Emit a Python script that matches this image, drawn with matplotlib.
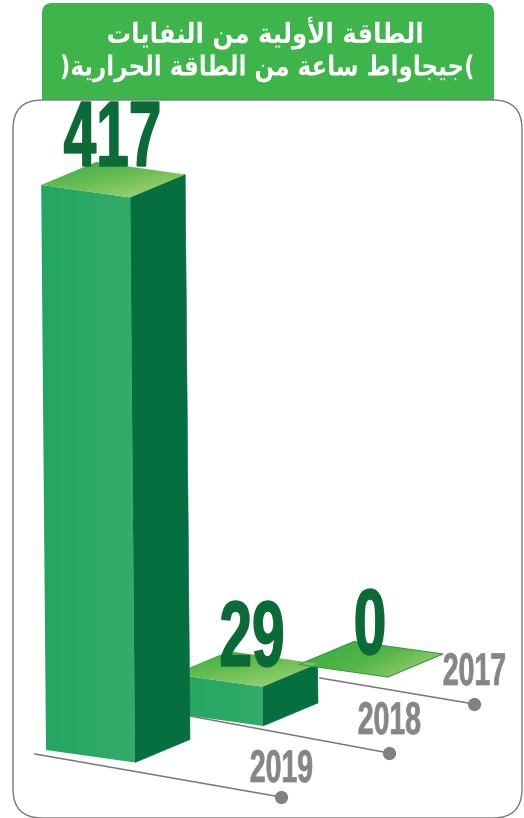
import numpy as np
import matplotlib
matplotlib.use('Agg')
import matplotlib.pyplot as plt
from matplotlib.patches import Polygon, FancyBboxPatch
from matplotlib.patheffects import AbstractPathEffect
from matplotlib.transforms import Affine2D
from matplotlib.colors import LinearSegmentedColormap

years = ['2019', '2018', '2017']
values = [417, 29, 0]
title_lines = ['الطاقة الأولية من النفايات', '(جيجاواط ساعة من الطاقة الحرارية)']

# isolated, final, initial, medial
FORMS = {
    'ا': (0xFE8D, 0xFE8E), 'أ': (0xFE83, 0xFE84), 'ر': (0xFEAD, 0xFEAE), 'و': (0xFEED, 0xFEEE),
    'ة': (0xFE93, 0xFE94),
    'ت': (0xFE95, 0xFE96, 0xFE97, 0xFE98), 'ج': (0xFE9D, 0xFE9E, 0xFE9F, 0xFEA0),
    'ح': (0xFEA1, 0xFEA2, 0xFEA3, 0xFEA4), 'س': (0xFEB1, 0xFEB2, 0xFEB3, 0xFEB4),
    'ط': (0xFEC1, 0xFEC2, 0xFEC3, 0xFEC4), 'ع': (0xFEC9, 0xFECA, 0xFECB, 0xFECC),
    'ف': (0xFED1, 0xFED2, 0xFED3, 0xFED4), 'ق': (0xFED5, 0xFED6, 0xFED7, 0xFED8),
    'ل': (0xFEDD, 0xFEDE, 0xFEDF, 0xFEE0), 'م': (0xFEE1, 0xFEE2, 0xFEE3, 0xFEE4),
    'ن': (0xFEE5, 0xFEE6, 0xFEE7, 0xFEE8), 'ي': (0xFEF1, 0xFEF2, 0xFEF3, 0xFEF4),
}
LAM_ALEF = {'ا': (0xFEFB, 0xFEFC), 'أ': (0xFEF7, 0xFEF8)}


def shape_arabic(line):
    # matplotlib has no shaping, so pick the joined forms and lay them out right to left
    out = []
    i = 0
    while i < len(line):
        c = line[i]
        if c not in FORMS:
            out.append(c)
            i += 1
            continue
        prev = line[i-1] if i > 0 else ''
        joins_prev = prev in FORMS and len(FORMS[prev]) == 4
        if c == 'ل' and i + 1 < len(line) and line[i+1] in LAM_ALEF:
            out.append(chr(LAM_ALEF[line[i+1]][1 if joins_prev else 0]))
            i += 2
            continue
        nxt = line[i+1] if i + 1 < len(line) else ''
        joins_next = len(FORMS[c]) == 4 and nxt in FORMS
        f = FORMS[c]
        if joins_prev and joins_next:
            out.append(chr(f[3]))
        elif joins_prev:
            out.append(chr(f[1]))
        elif joins_next:
            out.append(chr(f[2]))
        else:
            out.append(chr(f[0]))
        i += 1
    return ''.join(reversed(out))


class SqueezeX(AbstractPathEffect):
    # narrows glyphs around a fixed x and thickens them a little, for the condensed numerals
    def __init__(self, x0, sx, stroke=0.0):
        super().__init__()
        self.x0 = x0
        self.sx = sx
        self.stroke = stroke

    def draw_path(self, renderer, gc, tpath, affine, rgbFace=None):
        t = affine + Affine2D().translate(-self.x0, 0).scale(self.sx, 1).translate(self.x0, 0)
        gc0 = renderer.new_gc()
        gc0.copy_properties(gc)
        if self.stroke > 0:
            gc0.set_linewidth(self.stroke)
            gc0.set_foreground(rgbFace)
            gc0.set_joinstyle('miter')
        renderer.draw_path(gc0, tpath, t, rgbFace)
        gc0.restore()


top_cmap = LinearSegmentedColormap.from_list('top', ['#2fa83f', '#6cbf55', '#aad67a'])
front_cmap = LinearSegmentedColormap.from_list('front', ['#24a662', '#33ab6b'])
flat_cmap = LinearSegmentedColormap.from_list('flat', ['#35aa3e', '#55b548', '#a8d577'])


def fill_gradient(ax, pts, cmap, angle=0.0, zorder=3):
    poly = Polygon(pts, closed=True, facecolor='none', edgecolor='none', zorder=zorder)
    ax.add_patch(poly)
    pts = np.array(pts)
    x0, x1 = pts[:, 0].min(), pts[:, 0].max()
    y0, y1 = pts[:, 1].min(), pts[:, 1].max()
    xx, yy = np.meshgrid(np.linspace(0, 1, 120), np.linspace(0, 1, 120))
    g = (xx*np.cos(angle) + yy*np.sin(angle))
    g = (g - g.min())/(g.max() - g.min())
    im = ax.imshow(g, extent=[x0, x1, y1, y0], cmap=cmap, aspect='auto', zorder=zorder,
                   interpolation='bilinear')
    im.set_clip_path(poly)


fig = plt.figure(figsize=(5.24, 8.18), dpi=100)
ax = fig.add_axes([0, 0, 1, 1])
ax.set_xlim(0, 524)
ax.set_ylim(818, 0)
ax.axis('off')

# header tab sits behind the white panel
ax.add_patch(FancyBboxPatch((50, 11), 436, 110, boxstyle='round,pad=8,rounding_size=10',
                            facecolor='#3eb54b', edgecolor='none', zorder=1))
ax.add_patch(FancyBboxPatch((42, 129), 451, 660, boxstyle='round,pad=29,rounding_size=29',
                            facecolor='white', edgecolor='#77787b', linewidth=1.0, zorder=2))

title_x = [265, 267]
title_y = [33, 68]
title_sq = [0.88, 0.83]
for line, x, y, sq in zip(title_lines, title_x, title_y, title_sq):
    tx = ax.text(x, y, shape_arabic(line), family='DejaVu Sans', weight='bold', fontsize=20,
                 color='white', ha='center', va='center', zorder=5)
    tx.set_path_effects([SqueezeX(ax.transData.transform((x, y))[0], sq)])

# base corner (front-bottom) of each block, plus footprint offsets and scale
px_per_unit = 1.355
front_base = [(135, 762.5), (263, 726), (388, 677)]
left_off = (-89, -12.5)
right_off = (55, -23)
lean = -0.0085

leaders = [((35, 754), (281, 797)), ((190, 716), (389, 753)), ((320, 678), (474, 704))]
year_pos = [(281.5, 770), (389.5, 722), (474.5, 673)]
value_pos = [(112.5, 142), (252, 642), (370, 630)]
grey = '#85868a'

for (a, b), yr, pos in zip(leaders, years, year_pos):
    ax.plot([a[0], b[0]], [a[1], b[1]], color='#77787b', lw=1.1, zorder=2.5)
    ax.plot(b[0], b[1], 'o', color='#808185', ms=9.5, mew=0, zorder=2.5)
    tx = ax.text(pos[0], pos[1], yr, family='Liberation Sans', weight='bold', fontsize=33,
                 color=grey, ha='center', va='center', zorder=6)
    x0 = ax.transData.transform(pos)[0]
    tx.set_path_effects([SqueezeX(x0, 0.62, stroke=0.5)])

# tallest block last so it covers the others
for i in [2, 1, 0]:
    fx, fy = front_base[i]
    h = values[i]*px_per_unit
    dx = lean*h
    fr = (fx, fy)
    lf = (fx + left_off[0], fy + left_off[1])
    rt = (fx + right_off[0], fy + right_off[1])
    ftop = (fx + dx, fy - h)
    ltop = (lf[0] + dx, lf[1] - h)
    rtop = (rt[0] + dx, rt[1] - h)
    btop = (ltop[0] + right_off[0], ltop[1] + right_off[1])
    z = 3 + (0 if i else 1)
    if values[i] > 0:
        ax.add_patch(Polygon([ftop, rtop, rt, fr], closed=True, facecolor='#056f40', edgecolor='#056f40',
                             lw=0.4, zorder=z))
        fill_gradient(ax, [ltop, ftop, fr, lf], front_cmap, angle=0.0, zorder=z)
        fill_gradient(ax, [ltop, btop, rtop, ftop], top_cmap, angle=0.9, zorder=z + 0.1)
    else:
        fill_gradient(ax, [ltop, btop, rtop, ftop], flat_cmap, angle=0.5, zorder=z + 0.1)
        ax.add_patch(Polygon([ltop, btop, rtop, ftop], closed=True, facecolor='none', edgecolor='#2f9e3f',
                             lw=0.8, zorder=z + 0.2))

for v, pos in zip(values, value_pos):
    tx = ax.text(pos[0], pos[1], str(v), family='Liberation Sans', weight='bold', fontsize=67,
                 color='#0b6b37', ha='center', va='center', zorder=7)
    x0 = ax.transData.transform(pos)[0]
    tx.set_path_effects([SqueezeX(x0, 0.63, stroke=1.0)])

ax.set_xlim(0, 524)
ax.set_ylim(818, 0)
fig.savefig('out.png', dpi=100)
